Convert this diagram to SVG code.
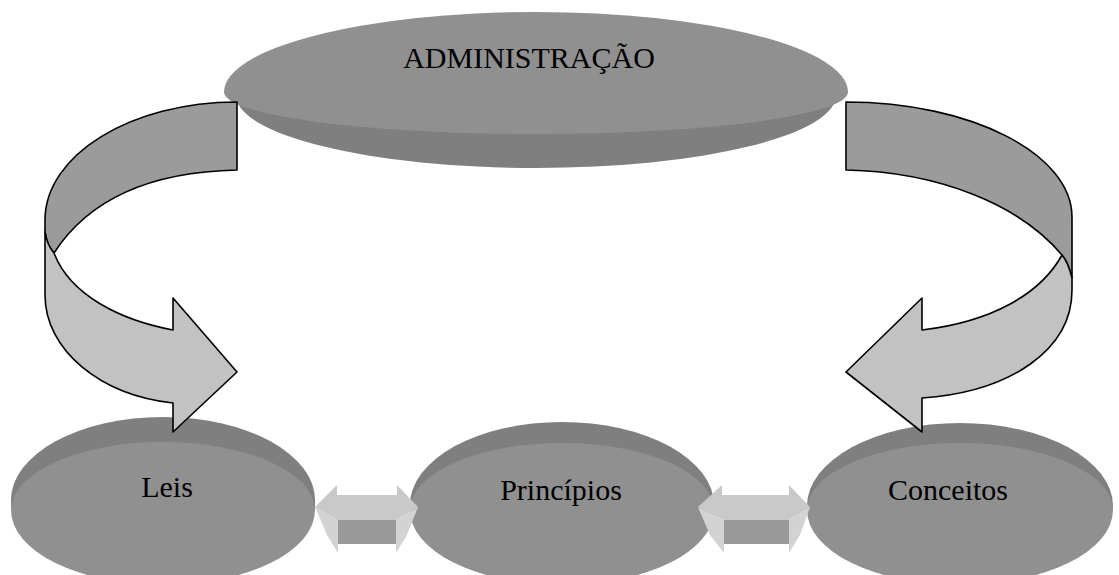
<svg xmlns="http://www.w3.org/2000/svg" width="1119" height="575" viewBox="0 0 1119 575">
<style>
.face{fill:#909090}
.band{fill:#7f7f7f}
.lbl{font-family:"Liberation Serif","Times New Roman",serif;font-size:30px;fill:#000;text-anchor:middle}
.dk{fill:#9b9b9b;stroke:#000;stroke-width:1.6;stroke-linejoin:round}
.lt{fill:#c2c2c2;stroke:#000;stroke-width:1.6;stroke-linejoin:round}
.atop{fill:#c9c9c9}
.afront{fill:#999999}
.aside{fill:#d3d3d3}
</style>
<rect width="1119" height="575" fill="#fff"/>
<g id="node-admin">
<path class="band" d="M224,92 L236,95 A300,73 0 0 0 836,95 L848,92 Z"/>
<path class="face" d="M224,92 A312,80 0 0 1 848,92 A312,42 0 0 1 224,92 Z"/>
<text class="lbl" x="529" y="68">ADMINISTRAÇÃO</text>
</g>
<g id="node-leis">
<path class="band" d="M11,510 L11,500 A152,83 0 0 1 315,500 L315,510 Z"/>
<path class="face" d="M11,510 A152,68 0 0 1 315,510 A152,75 0 0 1 11,510 Z"/>
<text class="lbl" x="167" y="497">Leis</text>
</g>
<g id="node-principios">
<path class="band" d="M410,510 L410,505 A152,83 0 0 1 714,505 L714,510 Z"/>
<path class="face" d="M410,510 A152,67 0 0 1 714,510 A152,75 0 0 1 410,510 Z"/>
<text class="lbl" x="561" y="500">Princípios</text>
</g>
<g id="node-conceitos">
<path class="band" d="M807,510 L807,506 A153,83 0 0 1 1113,506 L1113,510 Z"/>
<path class="face" d="M807,510 A153,67 0 0 1 1113,510 A153,75 0 0 1 807,510 Z"/>
<text class="lbl" x="948" y="500">Conceitos</text>
</g>
<g id="connectors">
<g id="arrow-admin-leis">
<path class="dk" d="M237,102 C131,102 45,155 45,220 L45,232 Q47,245 54,253 C85,205 140,172 237,170 Z"/>
<path class="lt" d="M45,232 L45,295 C45,350 100,395 173,403 L173,432 L237,372 L173,298 L173,330 C120,320 70,295 54,253 Q47,245 45,232 Z"/>
</g>
<g id="arrow-admin-conceitos">
<path class="dk" d="M846,102 C971,102 1072,154 1072,217 L1072,278 Q1068,262 1062,255 C1020,205 940,172 846,170 Z"/>
<path class="lt" d="M1062,255 Q1068,262 1072,278 L1072,290 C1072,350 1010,392 922,398 L922,432 L846,372 L922,298 L922,330 C990,322 1040,295 1062,255 Z"/>
</g>
<g id="arrow-leis-principios">
<rect class="afront" x="338" y="520" width="58" height="24"/>
<path class="aside" d="M315,507 L338,520 L338,553 L327,535 Z"/>
<path class="aside" d="M418,507 L396,520 L396,553 L407,535 Z"/>
<path class="atop" d="M315,507 L337,485 L337,495 L397,495 L397,485 L418,507 L396,520 L338,520 Z"/>
</g>
<g id="arrow-principios-conceitos">
<rect class="afront" x="724" y="520" width="65" height="24"/>
<path class="aside" d="M698,507 L724,520 L724,553 L710,535 Z"/>
<path class="aside" d="M810,507 L789,520 L789,553 L800,535 Z"/>
<path class="atop" d="M698,507 L722,485 L722,495 L789,495 L789,485 L810,507 L789,520 L724,520 Z"/>
</g>
</g>
</svg>
